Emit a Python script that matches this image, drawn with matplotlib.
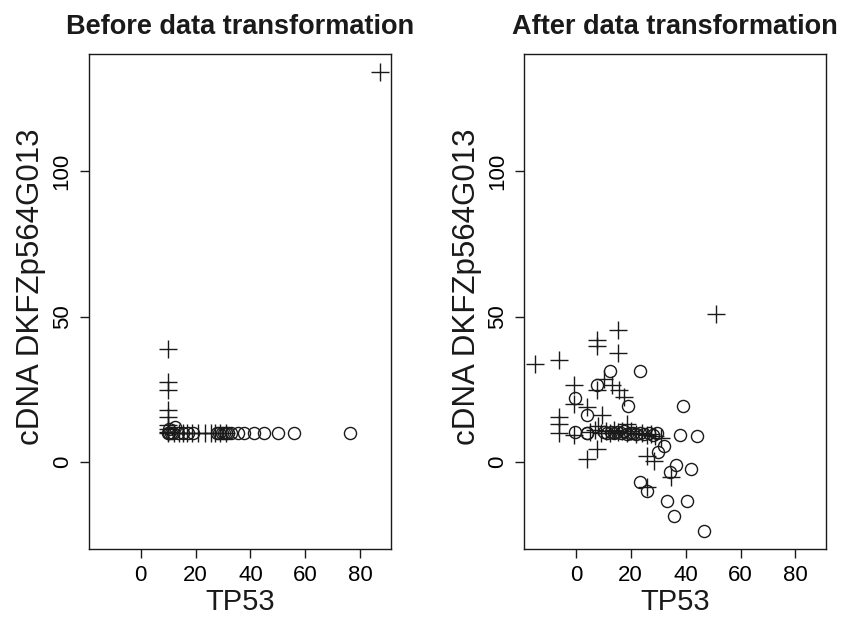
import numpy as np
import matplotlib
matplotlib.use("Agg")
import matplotlib.pyplot as plt

plt.rcParams['font.family'] = ['Liberation Sans', 'DejaVu Sans']

# before transformation
before_plus_x = [10, 10, 10, 10, 10, 10, 10, 10, 10, 12, 14, 15.3, 17, 18.8, 21, 23.6, 25.5, 27, 29, 31, 87]
before_plus_y = [39, 27.6, 24.8, 17.9, 15.6, 12.8, 11.6, 10.5, 10, 10, 10, 10, 10, 10, 10, 10, 10, 10, 10, 10, 134]
before_circ_x = [10, 10.2, 10.5, 11, 11.7, 12.5, 13.5, 15.3, 17.2, 19, 28, 28.7, 29.5, 30.5, 31.2, 31.7,
                 32.9, 35.4, 37.5, 41.4, 44.8, 50, 56, 76.4]
before_circ_y = [10, 11.5, 10, 10, 10, 12, 10, 10, 10, 10, 10, 10, 10, 10, 10, 10,
                 10, 10, 10, 10, 10, 10, 10, 10]

# after transformation
after_plus_x = [50.9, 15.2, 7.6, 7.6, 15.2, -14.8, -6.3, 10.3, 13.3, 15.8, 17.6, -0.6, 7.6, -0.6, 4.0,
                9.7, 18.8, -6.3, -6.3, -6.3, 7.6, 4.0, 26.1, 28.5, 34.5, 26.1, 7.9, -0.5,
                5, 7, 9, 11, 12.5, 14, 15.5, 17, 18.5, 20, 22, 24, 26, 27.5, 29, 31]
after_plus_y = [50.8, 45.4, 42.0, 40.0, 37.4, 33.6, 35.3, 28.7, 26.4, 24.7, 22.4, 26.4, 24.7, 20.1, 19.0,
                16.1, 13.2, 15.5, 13.2, 10.1, 4.6, 1.1, 2.3, 0.6, -5.2, -8.6, 12.6, 9.5,
                10.5, 11, 10, 10.8, 10.2, 11.2, 10.4, 10.8, 10, 10.6, 9.6, 10.2, 9.4, 9.8, 9, 8.5]
after_circ_x = [12.5, 23.4, 7.6, -0.4, 4.0, 19.0, 39.0, -0.4, 4.0, 4.0, 10.3, 11.5, 12.8, 14, 15, 16.3,
                17.5, 18.5, 19.8, 21, 22, 23.5, 25, 26.5, 28, 29.7, 37.9, 44.2, 32.1, 29.9,
                36.6, 41.8, 34.2, 23.4, 26.1, 33.3, 40.4, 35.8, 46.7]
after_circ_y = [31.3, 31.3, 26.7, 22.1, 16.3, 19.3, 19.3, 10.3, 10.1, 10.1, 10.4, 10.2, 10.5, 10, 10.3, 10.1,
                10.6, 9.8, 10.2, 10, 9.7, 10.1, 9.6, 9.9, 9.5, 10, 9.4, 9.0, 5.7, 3.4,
                -1.1, -2.3, -3.4, -6.7, -10.0, -13.3, -13.3, -18.4, -23.6]

titles = ["Before data transformation", "After data transformation"]
xticks = [0, 20, 40, 60, 80]
yticks = [0, 50, 100]

fig = plt.figure(figsize=(8.41, 6.20), dpi=100)
ax1 = fig.add_axes([0.1054, 0.114, 0.3593, 0.799])
ax2 = fig.add_axes([0.6230, 0.114, 0.3590, 0.799])

panels = [(ax1, before_plus_x, before_plus_y, before_circ_x, before_circ_y),
          (ax2, after_plus_x, after_plus_y, after_circ_x, after_circ_y)]

for i, (ax, px, py, cx, cy) in enumerate(panels):
    ax.plot(px, py, '+', color='#1a1a1a', markersize=13, mew=1.0)
    ax.plot(cx, cy, 'o', mfc='none', mec='#1a1a1a', markersize=8.7, mew=1.0)
    ax.set_xlim(-18.9, 91.1)
    ax.set_ylim(-29.9, 140.3)
    ax.set_xticks(xticks)
    ax.set_yticks(yticks)
    ax.tick_params(direction='out', length=6.5, width=1.0, labelsize=16, pad=5, color='#1a1a1a')
    for lab in ax.get_yticklabels():
        lab.set_rotation(90)
        lab.set_va('center')
    for s in ax.spines.values():
        s.set_linewidth(1.0)
        s.set_color('#1a1a1a')
    ax.set_title(titles[i], fontsize=19.5, fontweight='bold', pad=14, color='#1a1a1a')
    ax.set_xlabel('TP53', fontsize=21, color='#1a1a1a')
    ax.set_ylabel('cDNA DKFZp564G013', fontsize=22.5, color='#1a1a1a')
    ax.yaxis.set_label_coords(-0.14, 0.53)
    ax.xaxis.set_label_coords(0.5, -0.078)

fig.savefig('out.png', dpi=100)
